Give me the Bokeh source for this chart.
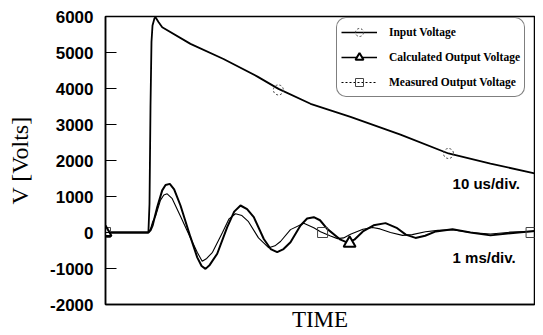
from bokeh.plotting import figure
from bokeh.models import Range1d, FixedTicker, Label, Legend, LegendItem
from bokeh.embed import file_html
from bokeh.resources import INLINE

# ---- data (time in arbitrary units 0..100, voltage in volts) ----
input_t = [0, 10.0, 10.26, 10.49, 10.72, 10.96, 11.42, 11.66, 12.35, 13.22, 19.81,
           27.51, 35.43, 40.33, 47.79, 57.11, 68.76, 79.95, 89.74, 100]
input_v = [0, 0, 800, 3500, 5300, 5750, 5950, 5980, 5850, 5700, 5240,
           4820, 4330, 3990, 3575, 3210, 2720, 2195, 1915, 1640]

calc_t = [0, 10.0, 10.5, 11.0, 12.05, 13.22, 14.0, 14.99, 16.0, 17.48, 19.81, 21.38,
          22.4, 23.31, 24.3, 26.04, 28.37, 30.0, 31.47, 33.0, 34.57, 36.9, 38.5,
          40.02, 41.5, 43.12, 45.45, 47.0, 48.55, 50.0, 51.68, 54.78, 56.41, 58.0,
          60.0, 62.5, 65.27, 68.0, 70.0, 72.26, 74.5, 77.0, 80.89, 85.08, 89.74,
          94.41, 100]
calc_v = [0, 0, 60, 200, 700, 1170, 1320, 1350, 1200, 750, -130, -690,
          -930, -1010, -900, -590, 150, 580, 750, 650, 425, -180, -460,
          -545, -460, -270, 195, 390, 425, 340, 100, -200, -280, -200,
          30, 200, 260, 120, -60, -150, -90, 30, 90, 0, -80,
          -20, 40]

meas_t = [0, 10.0, 10.5, 11.0, 11.66, 12.82, 13.6, 14.38, 15.5, 17.48, 19.81, 21.38,
          22.54, 23.6, 24.94, 27.27, 28.8, 30.3, 31.8, 33.33, 35.66, 38.07, 39.5,
          40.79, 43.12, 46.22, 48.55, 50.12, 52.45, 54.08, 55.5, 57.11, 60.0, 62.24,
          64.0, 66.43, 69.23, 71.5, 74.59, 77.5, 80.89, 85.08, 89.74, 94.41, 100]
meas_v = [0, 0, 100, 300, 450, 900, 1040, 1075, 950, 450, -150, -550,
          -800, -720, -550, 0, 380, 520, 470, 300, -150, -425, -370,
          -250, 80, 260, 130, 20, -100, -170, -150, -50, 90, 140,
          100, 0, -80, -60, 20, 60, 75, 0, -40, 10, 30]

input_mark_t = [0, 40.3, 79.95]
input_mark_v = [0, 3960, 2195]
calc_mark_t = [0, 56.9]
calc_mark_v = [0, -300]
meas_mark_t = [0, 50.6, 99.2]
meas_mark_v = [0, 0, 0]

y_ticks = [-2000, -1000, 0, 1000, 2000, 3000, 4000, 5000, 6000]
y_tick_labels = ["-2000", "-1000", "0", "1000", "2000", "3000", "4000", "5000", "6000"]
series_names = ["Input Voltage", "Calculated Output Voltage", "Measured Output Voltage"]
note_t = [80.9, 80.9]
note_v = [1360, -690]
note_text = ["10 us/div.", "1 ms/div."]

p = figure(width=535, height=334, x_range=Range1d(0, 100), y_range=Range1d(-2000, 6000),
           output_backend="svg", toolbar_location=None,
           min_border_left=105, min_border_right=1, min_border_top=16, min_border_bottom=30)
p.grid.visible = False
p.outline_line_color = "black"
p.outline_line_width = 1.5
p.background_fill_color = "white"
p.border_fill_color = "white"

# y axis
ya = p.yaxis[0]
ya.ticker = FixedTicker(ticks=y_ticks)
ya.major_label_overrides = dict(zip(y_ticks, y_tick_labels))
ya.major_tick_in = 11
ya.major_tick_out = 0
ya.minor_tick_line_color = None
ya.major_tick_line_color = "black"
ya.major_tick_line_width = 1.2
ya.axis_line_color = "black"
ya.axis_line_width = 1.5
ya.major_label_text_font = "Liberation Sans"
ya.major_label_text_font_style = "bold"
ya.major_label_text_font_size = "17px"
ya.major_label_text_color = "black"
ya.major_label_standoff = 12
ya.axis_label = "V [Volts]"
ya.axis_label_text_font = "Liberation Serif"
ya.axis_label_text_font_style = "normal"
ya.axis_label_text_font_size = "24px"
ya.axis_label_text_color = "black"
ya.axis_label_standoff = 14

# x axis
xa = p.xaxis[0]
xa.ticker = FixedTicker(ticks=[])
xa.major_tick_out = 0
xa.major_tick_in = 0
xa.minor_tick_line_color = None
xa.major_label_standoff = 0
xa.axis_line_color = "black"
xa.axis_line_width = 1.5
xa.axis_label = "TIME"
xa.axis_label_text_font = "Liberation Serif"
xa.axis_label_text_font_style = "normal"
xa.axis_label_text_font_size = "23px"
xa.axis_label_text_color = "black"
xa.axis_label_standoff = 2

# curves
r_in = p.line(input_t, input_v, line_color="black", line_width=1.8)
r_meas = p.line(meas_t, meas_v, line_color="black", line_width=1.1)
r_calc = p.line(calc_t, calc_v, line_color="black", line_width=2.0)

m_in = p.scatter(input_mark_t, input_mark_v, marker="circle", size=10, fill_color="white",
                 fill_alpha=0.0, line_color="#444444", line_width=1, line_dash="2 2")
m_meas = p.scatter(meas_mark_t, meas_mark_v, marker="square", size=10, fill_color="white",
                   fill_alpha=0.0, line_color="#444444", line_width=1)
m_calc = p.scatter(calc_mark_t, calc_mark_v, marker="triangle", size=12, fill_color="white",
                   line_color="black", line_width=2)

# legend proxies (single point lines -> invisible on plot)
l_in = p.line(input_mark_t[:1], input_mark_v[:1], line_color="black", line_width=1.5)
l_calc = p.line(calc_mark_t[:1], calc_mark_v[:1], line_color="black", line_width=1.5)
l_meas = p.line(meas_mark_t[:1], meas_mark_v[:1], line_color="black", line_width=1, line_dash="2 2")

legend = Legend(items=[
    LegendItem(label=series_names[0], renderers=[l_in, m_in]),
    LegendItem(label=series_names[1], renderers=[l_calc, m_calc]),
    LegendItem(label=series_names[2], renderers=[l_meas, m_meas]),
], location=(231, 207))
legend.border_line_color = "black"
legend.border_line_width = 1
legend.background_fill_color = "white"
legend.background_fill_alpha = 1.0
legend.label_text_font = "Liberation Serif"
legend.label_text_font_style = "bold"
legend.label_text_font_size = "11.5px"
legend.label_text_color = "black"
legend.glyph_width = 36
legend.glyph_height = 20
legend.label_height = 20
legend.spacing = 5
legend.padding = 4
legend.margin = 0
legend.label_standoff = 12
if "border_radius" in legend.properties():
    legend.border_radius = 10
p.add_layout(legend, "center")

for t, v, s in zip(note_t, note_v, note_text):
    p.add_layout(Label(x=t, y=v, text=s, text_font="Liberation Sans", text_font_style="bold",
                       text_font_size="15px", text_baseline="middle", text_color="black"))

open("out.html", "w").write(file_html(p, INLINE))
